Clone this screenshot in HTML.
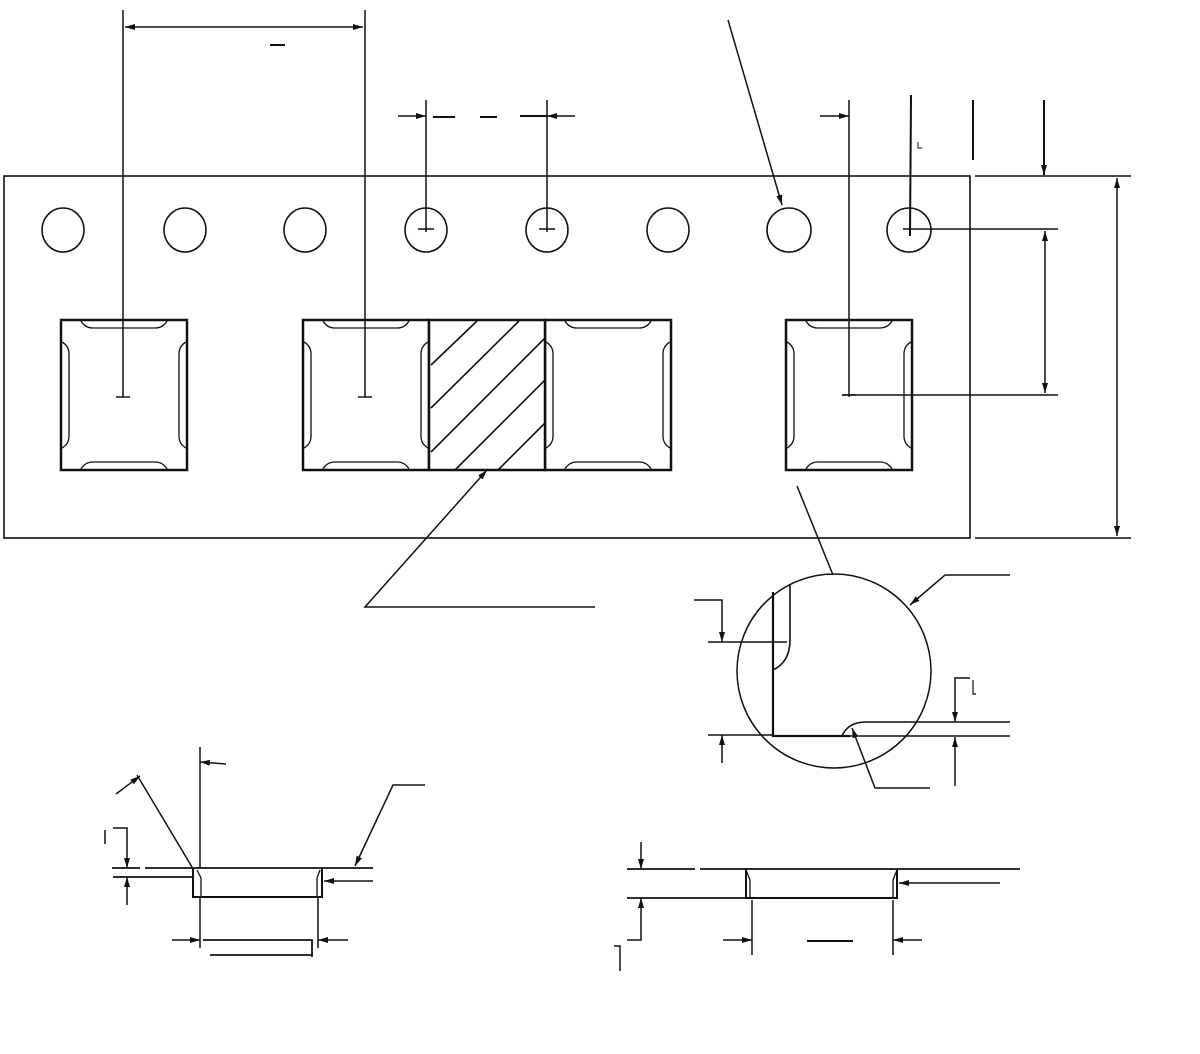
<!DOCTYPE html>
<html><head><meta charset="utf-8"><style>html,body{margin:0;padding:0;background:#fff}svg{display:block}</style></head>
<body>
<svg width="1200" height="1054" viewBox="0 0 1200 1054" xmlns="http://www.w3.org/2000/svg" fill="none" stroke="#111" stroke-width="1.5">
<defs>
<marker id="a" viewBox="0 0 10 6" refX="10" refY="3" markerWidth="10" markerHeight="6" orient="auto-start-reverse" markerUnits="userSpaceOnUse"><path d="M0,0 L10,3 L0,6 z" fill="#111" stroke="none"/></marker>
<g id="pk">
<rect x="0" y="0" width="126" height="150" stroke-width="2.5"/>
<path d="M20,1 q4,7 12,7 h62 q8,0 12,-7" stroke-width="1.3"/>
<path d="M20,149 q4,-7 12,-7 h62 q8,0 12,7" stroke-width="1.3"/>
<path d="M1,22 q7,4 7,12 v82 q0,8 -7,12" stroke-width="1.3"/>
<path d="M125,22 q-7,4 -7,12 v82 q0,8 7,12" stroke-width="1.3"/>
</g>
</defs>
<rect x="4" y="176" width="966" height="362" stroke-width="1.6"/>
<line x1="975" y1="176" x2="1131" y2="176"/>
<line x1="975" y1="538" x2="1131" y2="538"/>
<line x1="1117" y1="178" x2="1117" y2="536" marker-start="url(#a)" marker-end="url(#a)"/>
<g stroke-width="1.6">
<ellipse cx="63" cy="230" rx="21" ry="22"/><ellipse cx="185" cy="230" rx="21" ry="22"/>
<ellipse cx="305" cy="230" rx="21" ry="22"/><ellipse cx="426" cy="230" rx="21" ry="22"/>
<ellipse cx="547" cy="230" rx="21" ry="22"/><ellipse cx="668" cy="230" rx="21" ry="22"/>
<ellipse cx="789" cy="230" rx="22" ry="22"/><ellipse cx="909" cy="230" rx="22" ry="22"/>
</g>
<path d="M418,229h16M539,229h16M116,397h14M358,397h14M842,395h14"/>
<use href="#pk" x="61" y="320"/>
<use href="#pk" x="303" y="320"/>
<use href="#pk" x="545" y="320"/>
<use href="#pk" x="786" y="320"/>
<rect x="429" y="320" width="116" height="150" stroke-width="2.5" fill="#fff"/>
<g stroke-width="1.6">
<path d="M431,365L477,321M431,408L519,321M431,452L545,338M455,470L545,380M498,470L545,423"/>
</g>
<line x1="123" y1="10" x2="123" y2="397"/>
<line x1="365" y1="10" x2="365" y2="397"/>
<line x1="125" y1="27" x2="363" y2="27" marker-start="url(#a)" marker-end="url(#a)"/>
<line x1="270" y1="45" x2="285" y2="45" stroke-width="2"/>
<line x1="426" y1="100" x2="426" y2="232"/>
<line x1="547" y1="100" x2="547" y2="232"/>
<line x1="398" y1="116" x2="426" y2="116" marker-end="url(#a)"/>
<line x1="575" y1="116" x2="547" y2="116" marker-end="url(#a)"/>
<path d="M433,117h22M480,117h17M520,116h27" stroke-width="2"/>
<line x1="849" y1="100" x2="849" y2="397"/>
<line x1="820" y1="116" x2="849" y2="116" marker-end="url(#a)"/>
<line x1="842" y1="395" x2="1058" y2="395"/>
<line x1="903" y1="229" x2="1058" y2="229"/>
<line x1="1045" y1="231" x2="1045" y2="393" marker-start="url(#a)" marker-end="url(#a)"/>
<line x1="911" y1="95" x2="910" y2="236" stroke-width="2"/>
<line x1="973" y1="100" x2="973" y2="160" stroke-width="2"/>
<line x1="1044" y1="100" x2="1044" y2="175" stroke-width="2" marker-end="url(#a)"/>
<path d="M918,142v6h4" stroke-width="1"/>
<line x1="728" y1="20" x2="782" y2="205" marker-end="url(#a)"/>
<path d="M595,607H365L487,470" marker-end="url(#a)"/>
<line x1="797" y1="486" x2="833" y2="575"/>
<circle cx="834" cy="671" r="97"/>
<path d="M773,592V736H850" stroke-width="2.2"/>
<path d="M790,585V640q0,22 -17,30" stroke-width="1.6"/>
<path d="M842,736q6,-14 24,-14H1010" stroke-width="1.6"/>
<line x1="850" y1="736" x2="1010" y2="736" stroke-width="1.6"/>
<line x1="708" y1="642" x2="787" y2="642"/>
<line x1="708" y1="735" x2="773" y2="735"/>
<path d="M694,600H722V642" marker-end="url(#a)"/>
<line x1="722" y1="763" x2="722" y2="735" marker-end="url(#a)"/>
<path d="M970,678H955V722" marker-end="url(#a)"/>
<line x1="955" y1="786" x2="955" y2="737" marker-end="url(#a)"/>
<path d="M1010,575H945L910,605" marker-end="url(#a)"/>
<path d="M930,788H875L852,728" marker-end="url(#a)"/>
<path d="M973,680v14h3" stroke-width="1.2"/>
<line x1="200" y1="747" x2="200" y2="868"/>
<line x1="226" y1="764" x2="200" y2="762" marker-end="url(#a)"/>
<line x1="116" y1="794" x2="140" y2="776" marker-end="url(#a)"/>
<line x1="137" y1="775" x2="192" y2="867"/>
<path d="M112,868H140M145,868H373" stroke-width="1.8"/>
<line x1="113" y1="877" x2="193" y2="877" stroke-width="1.8"/>
<path d="M193,868V897H322V868" stroke-width="2"/>
<path d="M197,870l4,8v18M320,870l-3,8v18" stroke-width="1.3"/>
<path d="M113,828H127V868" marker-end="url(#a)"/>
<line x1="127" y1="905" x2="127" y2="877" marker-end="url(#a)"/>
<line x1="373" y1="881" x2="324" y2="881" marker-end="url(#a)"/>
<path d="M425,785H393L355,866" marker-end="url(#a)"/>
<line x1="200" y1="898" x2="200" y2="948"/>
<line x1="318" y1="898" x2="318" y2="948"/>
<line x1="172" y1="940" x2="200" y2="940" marker-end="url(#a)"/>
<line x1="348" y1="940" x2="318" y2="940" marker-end="url(#a)"/>
<path d="M203,940H312V957M210,955H312" stroke-width="1.8"/>
<path d="M105,830v14" stroke-width="1.5"/>
<path d="M627,869H695M700,869H1020" stroke-width="1.8"/>
<line x1="627" y1="898" x2="746" y2="898" stroke-width="1.8"/>
<path d="M746,869V898H897V869" stroke-width="2"/>
<path d="M746,870l4,10v17M897,870l-4,10v17" stroke-width="1.3"/>
<line x1="641" y1="842" x2="641" y2="869" marker-end="url(#a)"/>
<path d="M627,940H641V898" marker-end="url(#a)"/>
<line x1="1000" y1="883" x2="899" y2="883" marker-end="url(#a)"/>
<line x1="752" y1="900" x2="752" y2="955"/>
<line x1="893" y1="900" x2="893" y2="955"/>
<line x1="723" y1="940" x2="752" y2="940" marker-end="url(#a)"/>
<line x1="922" y1="940" x2="893" y2="940" marker-end="url(#a)"/>
<line x1="807" y1="941" x2="853" y2="941" stroke-width="2"/>
<path d="M614,946h6v25" stroke-width="1.5"/>
</g>
</svg>
</body></html>
